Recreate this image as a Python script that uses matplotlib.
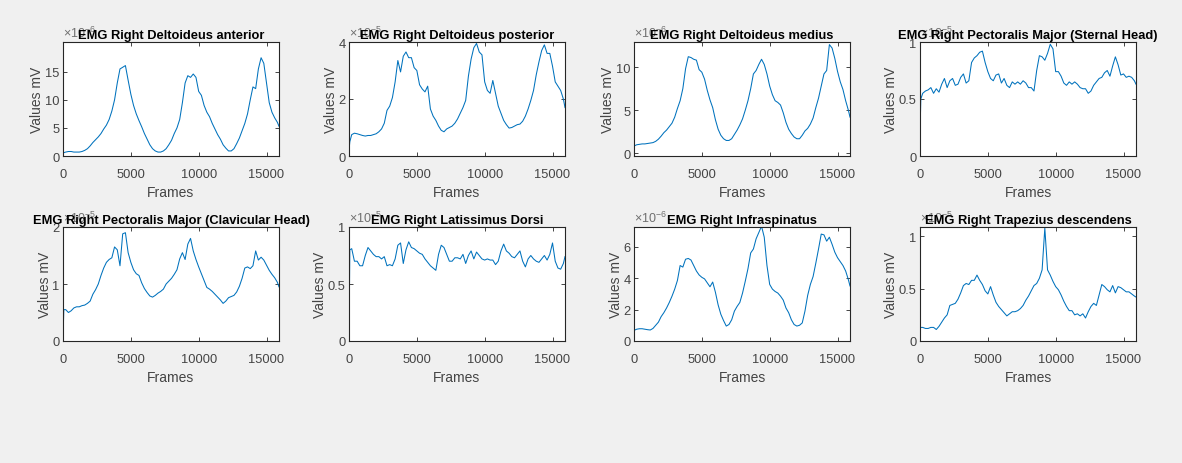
import matplotlib
matplotlib.use("Agg")
import matplotlib.pyplot as plt
from matplotlib.ticker import FixedLocator, FuncFormatter

# ---------------- data ----------------
frames = [0, 60] + list(range(200, 15801, 200)) + [15920]

titles = [
    "EMG Right Deltoideus anterior",
    "EMG Right Deltoideus posterior",
    "EMG Right Deltoideus medius",
    "EMG Right Pectoralis Major (Sternal Head)",
    "EMG Right Pectoralis Major (Clavicular Head)",
    "EMG Right Latissimus Dorsi",
    "EMG Right Infraspinatus",
    "EMG Right Trapezius descendens",
]

deltoideus_anterior = [
    0.4, 0.6, 0.7, 0.8, 0.8, 0.7, 0.7, 0.7, 0.8, 1.0, 1.3, 1.8, 2.4, 2.9, 3.4, 4.0,
    4.8, 5.5, 6.5, 8.0, 10.0, 13.0, 15.5, 15.8, 16.1, 13.5, 11.0, 9.0, 7.5, 6.3, 5.2, 4.0,
    3.0, 2.0, 1.3, 0.9, 0.7, 0.7, 0.9, 1.3, 2.0, 2.8, 4.0, 5.0, 6.5, 9.5, 13.0, 14.3,
    14.0, 14.6, 14.0, 11.5, 10.8, 9.0, 7.8, 7.0, 5.8, 4.8, 3.8, 3.0, 2.0, 1.4, 0.9, 0.9,
    1.3, 2.2, 3.2, 4.5, 5.8, 7.5, 10.0, 12.3, 12.0, 15.5, 17.5, 16.5, 13.0, 9.5, 7.8, 6.8,
    6.0, 5.3,
]

deltoideus_posterior = [
    0.2, 0.5, 0.75, 0.8, 0.78, 0.75, 0.72, 0.7, 0.72, 0.72, 0.75, 0.78, 0.85, 0.95, 1.15, 1.6,
    1.75, 2.05, 2.6, 3.35, 2.95, 3.5, 3.65, 3.45, 3.45, 3.1, 3.0, 2.5, 2.35, 2.25, 2.45, 1.65,
    1.4, 1.25, 1.05, 0.9, 0.85, 0.95, 1.0, 1.05, 1.15, 1.3, 1.5, 1.7, 1.95, 2.8, 3.4, 3.8,
    3.95, 3.65, 3.55, 2.6, 2.3, 2.2, 2.65, 2.2, 1.75, 1.5, 1.25, 1.1, 0.98, 1.0, 1.05, 1.1,
    1.12, 1.22, 1.4, 1.65, 1.95, 2.3, 2.85, 3.3, 3.7, 3.9, 3.6, 3.6, 3.15, 2.6, 2.45, 2.3,
    2.0, 1.7,
]

deltoideus_medius = [
    0.8, 0.9, 1.0, 1.05, 1.1, 1.1, 1.15, 1.2, 1.25, 1.4, 1.65, 2.0, 2.4, 2.7, 3.1, 3.5,
    4.2, 5.2, 6.1, 7.5, 9.8, 11.2, 11.1, 10.9, 10.8, 9.7, 9.4, 8.6, 7.3, 6.2, 5.3, 3.9,
    2.8, 2.1, 1.7, 1.5, 1.5, 1.7, 2.2, 2.7, 3.3, 4.0, 5.0, 6.1, 7.5, 9.2, 9.6, 10.3,
    10.9, 10.3, 9.2, 7.8, 6.8, 6.1, 5.9, 5.6, 4.7, 3.6, 2.8, 2.3, 1.9, 1.7, 1.7, 2.1,
    2.6, 2.9, 3.4, 4.1, 5.3, 6.4, 7.8, 9.2, 9.6, 12.6, 12.2, 11.0, 9.5, 8.3, 7.4, 6.1,
    5.0, 4.2,
]

pectoralis_sternal = [
    0.2, 0.5, 0.55, 0.57, 0.58, 0.6, 0.55, 0.59, 0.56, 0.63, 0.68, 0.6, 0.66, 0.68, 0.62, 0.63,
    0.69, 0.72, 0.64, 0.66, 0.82, 0.86, 0.88, 0.91, 0.92, 0.82, 0.74, 0.68, 0.66, 0.71, 0.72, 0.64,
    0.68, 0.62, 0.6, 0.65, 0.63, 0.65, 0.63, 0.66, 0.64, 0.6, 0.6, 0.57, 0.75, 0.88, 0.87, 0.84,
    0.9, 0.98, 0.94, 0.74, 0.74, 0.7, 0.64, 0.62, 0.65, 0.63, 0.65, 0.63, 0.6, 0.59, 0.59, 0.55,
    0.57, 0.62, 0.65, 0.68, 0.69, 0.73, 0.75, 0.7, 0.79, 0.87, 0.8, 0.71, 0.72, 0.69, 0.7, 0.69,
    0.66, 0.63,
]

pectoralis_clavicular = [
    0.05, 0.55, 0.55, 0.5, 0.53, 0.58, 0.6, 0.6, 0.62, 0.63, 0.66, 0.7, 0.82, 0.9, 1.0, 1.15,
    1.28, 1.38, 1.43, 1.46, 1.65, 1.6, 1.32, 1.88, 1.9, 1.55, 1.38, 1.25, 1.18, 1.15, 1.02, 0.92,
    0.85, 0.79, 0.77, 0.8, 0.84, 0.87, 0.91, 1.0, 1.05, 1.1, 1.17, 1.25, 1.44, 1.55, 1.43, 1.7,
    1.8, 1.58, 1.43, 1.3, 1.18, 1.06, 0.94, 0.91, 0.87, 0.82, 0.77, 0.72, 0.66, 0.7, 0.76, 0.78,
    0.8, 0.86, 0.96, 1.1, 1.28, 1.3, 1.27, 1.32, 1.58, 1.42, 1.47, 1.42, 1.33, 1.24, 1.17, 1.11,
    1.03, 0.95,
]

latissimus_dorsi = [
    0.02, 0.8, 0.81, 0.7, 0.7, 0.66, 0.66, 0.75, 0.82, 0.79, 0.76, 0.74, 0.74, 0.72, 0.74, 0.66,
    0.67, 0.66, 0.72, 0.84, 0.86, 0.68, 0.8, 0.87, 0.82, 0.81, 0.79, 0.77, 0.76, 0.72, 0.69, 0.66,
    0.64, 0.62, 0.76, 0.84, 0.82, 0.76, 0.7, 0.7, 0.73, 0.73, 0.72, 0.76, 0.68, 0.75, 0.79, 0.72,
    0.78, 0.75, 0.72, 0.71, 0.72, 0.71, 0.71, 0.67, 0.7, 0.79, 0.85, 0.79, 0.77, 0.74, 0.73, 0.76,
    0.79, 0.7, 0.65, 0.72, 0.75, 0.72, 0.7, 0.69, 0.72, 0.75, 0.71, 0.76, 0.86, 0.7, 0.64, 0.63,
    0.68, 0.74,
]

infraspinatus = [
    0.6, 0.7, 0.75, 0.78, 0.78, 0.75, 0.72, 0.7, 0.8, 1.0, 1.2, 1.55, 1.8, 2.1, 2.45, 2.85,
    3.3, 3.85, 4.8, 4.7, 5.2, 5.25, 5.15, 4.8, 4.45, 4.2, 4.05, 3.95, 3.7, 3.45, 3.75, 3.1,
    2.3, 1.7, 1.3, 0.95, 1.05, 1.35, 1.9, 2.2, 2.45, 3.05, 3.8, 4.6, 5.6, 5.85, 6.5, 6.9,
    7.3, 6.6, 4.8, 3.6, 3.3, 3.15, 3.05, 2.85, 2.6, 2.1, 1.8, 1.35, 1.05, 0.95, 1.0, 1.15,
    1.9, 2.9, 3.6, 4.1, 4.95, 5.85, 6.8, 6.75, 6.35, 6.6, 6.15, 5.65, 5.3, 5.05, 4.8, 4.45,
    3.9, 3.5,
]

trapezius_descendens = [
    0.13, 0.13, 0.13, 0.12, 0.12, 0.13, 0.13, 0.11, 0.14, 0.18, 0.22, 0.25, 0.34, 0.35, 0.36, 0.4,
    0.46, 0.53, 0.55, 0.54, 0.58, 0.58, 0.63, 0.58, 0.54, 0.48, 0.45, 0.52, 0.44, 0.37, 0.33, 0.3,
    0.27, 0.24, 0.26, 0.28, 0.28, 0.29, 0.31, 0.34, 0.39, 0.43, 0.48, 0.53, 0.55, 0.6, 0.68, 1.08,
    0.68, 0.63, 0.57, 0.52, 0.49, 0.44, 0.38, 0.33, 0.29, 0.29, 0.25, 0.26, 0.24, 0.26, 0.22, 0.28,
    0.33, 0.36, 0.34, 0.44, 0.54, 0.52, 0.49, 0.47, 0.53, 0.46, 0.52, 0.51, 0.49, 0.47, 0.47, 0.45,
    0.43, 0.42,
]

series = [deltoideus_anterior, deltoideus_posterior, deltoideus_medius, pectoralis_sternal,
          pectoralis_clavicular, latissimus_dorsi, infraspinatus, trapezius_descendens]
exponents = [-6, -5, -6, -5, -5, -5, -6, -5]
y_limits = [(0, 20.3), (0, 4), (-0.3, 12.9), (0, 1), (0, 2), (0, 1), (0, 7.25), (0, 1.09)]
y_ticks = [[0, 5, 10, 15], [0, 2, 4], [0, 5, 10], [0, 0.5, 1], [0, 1, 2], [0, 0.5, 1],
           [0, 2, 4, 6], [0, 0.5, 1]]
x_ticks = [0, 5000, 10000, 15000]

for s in series:
    assert len(s) == len(frames), (len(s), len(frames))

# ---------------- style ----------------
plt.rcParams["font.family"] = ["Liberation Sans", "DejaVu Sans"]
plt.rcParams["mathtext.fontset"] = "custom"
plt.rcParams["mathtext.rm"] = "Liberation Sans"
plt.rcParams["mathtext.default"] = "regular"

W, H = 1182, 464
fig = plt.figure(figsize=(W / 100, H / 100), dpi=100, facecolor="#F0F0F0")

lefts_px = [63, 349, 634, 920]
tops_px = [43, 228]
ax_w_px, ax_h_px = 216, 114

axis_col = "#262626"
text_col = "#444444"

def fmt(v, _pos):
    return ("%g" % v)

for i, (title, vals) in enumerate(zip(titles, series)):
    r, c = divmod(i, 4)
    left = lefts_px[c] / W
    bottom = (H - tops_px[r] - ax_h_px) / H
    ax = fig.add_axes([left, bottom, ax_w_px / W, ax_h_px / H])
    ax.set_facecolor("white")
    ax.plot(frames, vals, color="#0072BD", lw=0.75)
    ax.set_xlim(0, 15920)
    ax.set_ylim(*y_limits[i])
    ax.xaxis.set_major_locator(FixedLocator(x_ticks))
    ax.yaxis.set_major_locator(FixedLocator(y_ticks[i]))
    ax.xaxis.set_major_formatter(FuncFormatter(fmt))
    ax.yaxis.set_major_formatter(FuncFormatter(fmt))
    ax.tick_params(direction="in", length=3, width=0.6, color=axis_col,
                   top=True, right=True, labelsize=9.3, labelcolor=text_col)
    ax.tick_params(axis="x", pad=8.5)
    ax.tick_params(axis="y", pad=2.5)
    for sp in ax.spines.values():
        sp.set_color(axis_col)
        sp.set_linewidth(0.8)
    ax.set_xlabel("Frames", fontsize=10, color=text_col, labelpad=3.5)
    ax.set_ylabel("Values mV", fontsize=10, color=text_col, labelpad=0.5)
    ax.text(0.0, 1.02, r"$\times10^{%d}$" % exponents[i], transform=ax.transAxes,
            ha="left", va="bottom", fontsize=9, color="#707070", zorder=1)
    ax.set_title(title, fontsize=9.3, fontweight="bold", color="black", pad=3)

fig.savefig("out.png", dpi=100, facecolor=fig.get_facecolor())
